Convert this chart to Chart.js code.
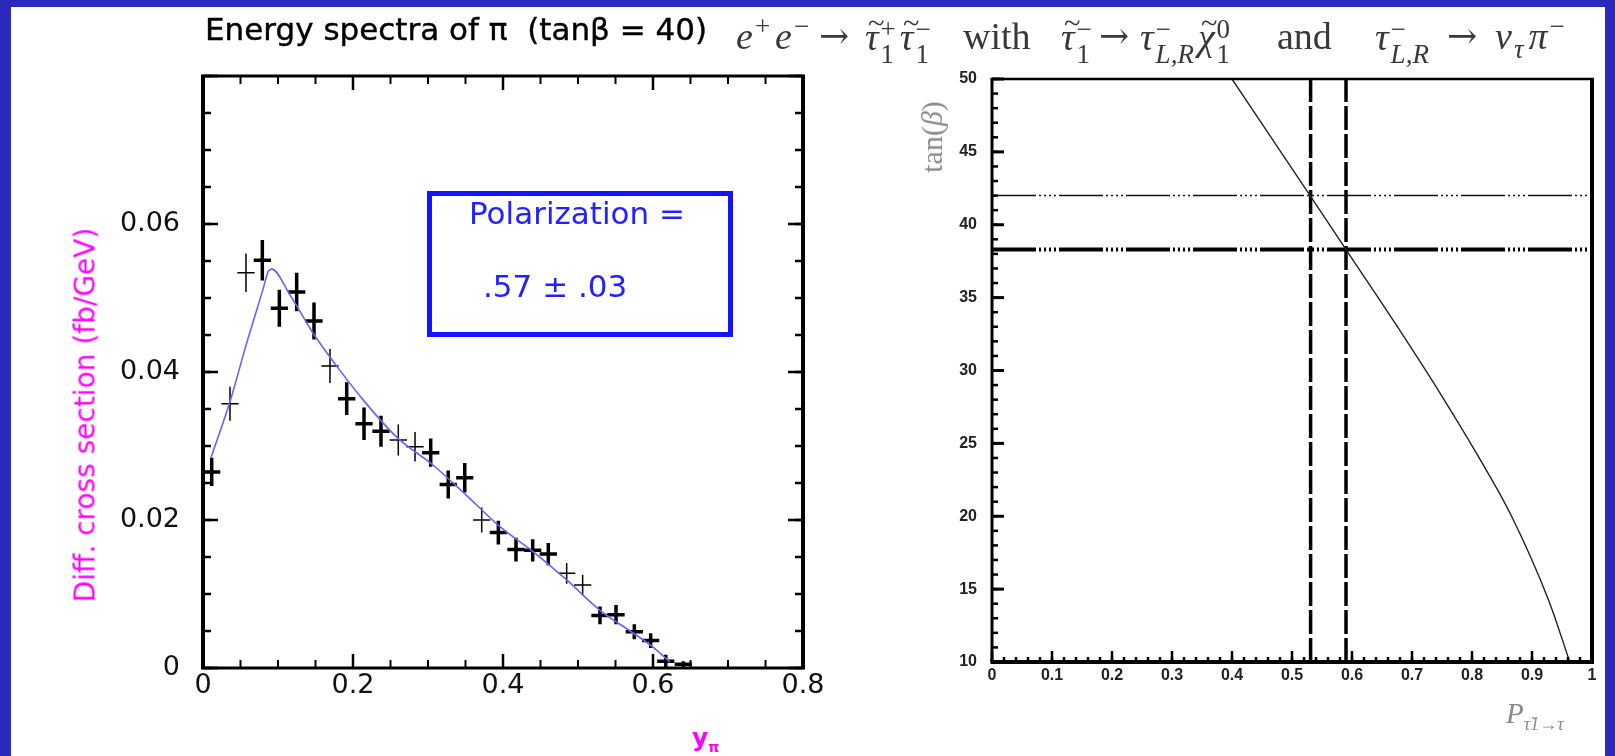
<!DOCTYPE html>
<html>
<head>
<meta charset="utf-8">
<script src="https://cdn.jsdelivr.net/npm/chart.js@4.4.1/dist/chart.umd.min.js"></script>
<style>
  body { margin: 0; background: #2a2bbd; }
  #page { position: relative; width: 1615px; height: 756px; overflow: hidden; background: #2a2bbd; }
  #white { position: absolute; left: 11px; top: 7px; width: 1594px; height: 749px; background: #fff; }
  canvas { position: absolute; top: 0; }
  .txt { position: absolute; white-space: nowrap; line-height: 1; }
  #title { left: 205px; top: 11px; font: 31px "DejaVu Sans"; color: #000; -webkit-text-stroke: 0.4px #000; }
  .fm { position: absolute; top: 17px; font: 38px "Liberation Serif"; color: #383838; white-space: nowrap; line-height: 38px; }
  .fm i { font-style: italic; }
  .ss { display: inline-block; vertical-align: -0.5em; font-size: 27px; line-height: 25px; margin-left: 2px; margin-right: 4px; }
  .ss > span { display: block; }
  .fm sup, .fm sub { font-size: 27px; line-height: 0; margin-left: 2px; margin-right: 5px; }
  .tl { position: relative; display: inline-block; }
  .tl::after { content: "~"; position: absolute; left: 0.1em; top: -0.45em; font-style: normal; font-size: 0.8em; }
  .ar { font-family: "DejaVu Serif"; font-size: 36px; }
  #polbox { position: absolute; left: 427px; top: 191px; width: 306px; height: 146px; box-sizing: border-box; border: 5px solid #1414ff; }
  .pol { font: 31px "DejaVu Sans"; color: #2222ff; }
  #ytitle { left: 85px; top: 415px; font: 28px "DejaVu Sans"; color: #ff00ff; transform: translate(-50%, -50%) rotate(-90deg); }
  #xtitle { left: 692px; top: 723px; font: bold 25px "DejaVu Sans"; color: #ff00ff; }
  #xtitle sub { font-size: 14px; }
  #tbtitle { left: 932px; top: 137px; font: 30px "Liberation Serif"; color: #8a8a8a; transform: translate(-50%, -50%) rotate(-90deg); }
  #ptitle { left: 1506px; top: 697px; font: italic 29px "Liberation Serif"; color: #8a8a8a; }
  #ptitle sub { font-size: 18px; }
</style>
</head>
<body>
<div id="page">
  <div id="white"></div>
  <canvas id="spectrum" width="880" height="756" style="left:0"></canvas>
  <canvas id="tanbeta" width="735" height="756" style="left:880px"></canvas>

  <div class="txt" id="title">Energy spectra of π&nbsp; (tanβ = 40)</div>

  <div class="fm" style="left:736px"><i>e</i><sup>+</sup><i>e</i><sup>−</sup></div>
  <div class="fm ar" style="left:819px">→</div>
  <div class="fm" style="left:865px"><i class="tl">τ</i><span class="ss"><span>+</span><span>1</span></span><i class="tl">τ</i><span class="ss"><span>−</span><span>1</span></span></div>
  <div class="fm" style="left:963px">with</div>
  <div class="fm" style="left:1061px"><i class="tl">τ</i><span class="ss"><span>−</span><span>1</span></span></div>
  <div class="fm ar" style="left:1099px">→</div>
  <div class="fm" style="left:1140px"><i>τ</i><span class="ss"><span>−</span><span><i>L,R</i></span></span><i class="tl">χ</i><span class="ss"><span>0</span><span>1</span></span></div>
  <div class="fm" style="left:1277px">and</div>
  <div class="fm" style="left:1375px"><i>τ</i><span class="ss"><span>−</span><span><i>L,R</i></span></span></div>
  <div class="fm ar" style="left:1447px">→</div>
  <div class="fm" style="left:1495px"><i>ν</i><sub><i>τ</i></sub><i>π</i><sup>−</sup></div>

  <div id="polbox"></div>
  <div class="txt pol" style="left:469px; top:195px">Polarization =</div>
  <div class="txt pol" style="left:483px; top:268px">.57 ± .03</div>

  <div class="txt" id="ytitle">Diff. cross section (fb/GeV)</div>
  <div class="txt" id="xtitle">y<sub>π</sub></div>
  <div class="txt" id="tbtitle">tan(<i>β</i>)</div>
  <div class="txt" id="ptitle">P<sub>τ̃1→τ</sub></div>
</div>

<script>
// left panel: pion energy spectrum
const yPi = [0.0116, 0.036, 0.0573, 0.0791, 0.1018, 0.1249, 0.148, 0.1693, 0.1916, 0.2147,
  0.2373, 0.2604, 0.2827, 0.3036, 0.327, 0.349, 0.3716, 0.3938, 0.4173, 0.4396,
  0.4604, 0.4849, 0.5062, 0.5293, 0.5507, 0.5751, 0.5969, 0.617, 0.6404];
const xsec = [0.0265, 0.0357, 0.0534, 0.0551, 0.0486, 0.0508, 0.0469, 0.0408, 0.0364, 0.0330,
  0.0320, 0.0308, 0.0299, 0.0291, 0.0248, 0.0257, 0.0200, 0.0183, 0.0160, 0.0159,
  0.0154, 0.0128, 0.0112, 0.0071, 0.0072, 0.0049, 0.0037, 0.0009, 0.0005];
const xsecErr = [0.0019, 0.0023, 0.0026, 0.00275, 0.0025, 0.0026, 0.0025, 0.0023, 0.0022, 0.0022,
  0.0021, 0.0021, 0.0020, 0.0019, 0.0019, 0.0020, 0.0017, 0.0016, 0.0016, 0.0015,
  0.0015, 0.0014, 0.0014, 0.0012, 0.0013, 0.0010, 0.0010, 0.0009, 0.0004];
const binHalf = 0.0115;
const thickBar = [1, 0, 0, 1, 1, 1, 1, 0, 1, 1, 1, 0, 0, 1, 1, 1, 0, 1, 1, 1, 1, 0, 0, 1, 1, 1, 1, 1, 1];

const fitX = [0.0102, 0.036, 0.0582, 0.0804, 0.087, 0.0916, 0.116, 0.1471, 0.1738, 0.2138,
  0.2582, 0.307, 0.3516, 0.396, 0.4404, 0.4849, 0.5293, 0.5738, 0.6004, 0.6227];
const fitY = [0.0283, 0.036, 0.0439, 0.0513, 0.0536, 0.0539, 0.0504, 0.0452, 0.0414, 0.0362,
  0.0312, 0.0274, 0.0233, 0.0191, 0.0157, 0.0119, 0.0078, 0.0047, 0.0028, 0.0008];

const leftXTicks = [0, 0.2, 0.4, 0.6, 0.8];
const leftXLabels = ['0', '0.2', '0.4', '0.6', '0.8'];
const leftYTicks = [0, 0.02, 0.04, 0.06, 0.08];
const leftYLabels = ['0', '0.02', '0.04', '0.06', ''];

// right panel: tan(beta) vs polarization
const polX = [0.400, 0.531, 0.590, 0.671, 0.749, 0.812, 0.866, 0.928, 0.963];
const tanB = [50, 41.95, 38.3, 33.3, 28.3, 24.0, 20.0, 14.2, 10];
const tanBBand = [42.0, 38.3];
const polBand = [0.531, 0.590];

const rightXTicks = [0, 0.1, 0.2, 0.3, 0.4, 0.5, 0.6, 0.7, 0.8, 0.9, 1];
const rightXLabels = ['0', '0.1', '0.2', '0.3', '0.4', '0.5', '0.6', '0.7', '0.8', '0.9', '1'];
const rightYTicks = [10, 15, 20, 25, 30, 35, 40, 45, 50];
const rightYLabels = ['10', '15', '20', '25', '30', '35', '40', '45', '50'];

// frame + inward tick marks, drawn through the chart scales
function framePlugin(cfg) {
  return {
    id: 'frameTicks',
    afterDraw(chart) {
      const { ctx, chartArea: a, scales: { x, y } } = chart;
      ctx.save();
      ctx.strokeStyle = '#000';
      ctx.lineCap = 'butt';

      const xs = (step, fn) => {
        for (let v = x.min; v <= x.max + 1e-9; v += step) fn(x.getPixelForValue(v));
      };
      const ys = (step, fn) => {
        for (let v = y.min; v <= y.max + 1e-9; v += step) fn(y.getPixelForValue(v));
      };
      const line = (x1, y1, x2, y2, w) => {
        ctx.lineWidth = w;
        ctx.beginPath();
        ctx.moveTo(x1, y1);
        ctx.lineTo(x2, y2);
        ctx.stroke();
      };

      cfg.xTicks.forEach(t => xs(t.step, px => {
        if (t.bottom) line(px, a.bottom, px, a.bottom - t.len, t.w);
        if (t.top) line(px, a.top, px, a.top + t.len, t.w);
      }));
      cfg.yTicks.forEach(t => ys(t.step, py => {
        if (t.left) line(a.left, py, a.left + t.len, py, t.w);
        if (t.right) line(a.right, py, a.right - t.len, py, t.w);
      }));

      const f = cfg.frame;
      line(a.left - f.left / 2, a.top, a.right + f.right / 2, a.top, f.top);
      line(a.left - f.left / 2, a.bottom, a.right + f.right / 2, a.bottom, f.bottom);
      line(a.left, a.top, a.left, a.bottom, f.left);
      line(a.right, a.top, a.right, a.bottom, f.right);
      ctx.restore();
    }
  };
}

const errorBars = {
  id: 'errorBars',
  beforeDatasetsDraw(chart) {
    const { ctx, scales: { x, y } } = chart;
    ctx.save();
    ctx.strokeStyle = '#000';
    yPi.forEach((v, i) => {
      const px = x.getPixelForValue(v);
      const py = y.getPixelForValue(xsec[i]);
      ctx.lineWidth = thickBar[i] ? 3.5 : 1.5;
      ctx.beginPath();
      ctx.moveTo(x.getPixelForValue(v - binHalf), py);
      ctx.lineTo(x.getPixelForValue(v + binHalf), py);
      ctx.moveTo(px, y.getPixelForValue(xsec[i] - xsecErr[i]));
      ctx.lineTo(px, y.getPixelForValue(xsec[i] + xsecErr[i]));
      ctx.stroke();
    });
    ctx.restore();
  }
};

new Chart(document.getElementById('spectrum'), {
  type: 'scatter',
  data: {
    datasets: [
      {
        label: 'data',
        data: yPi.map((v, i) => ({ x: v, y: xsec[i] })),
        pointRadius: 0,
      },
      {
        label: 'fit',
        data: fitX.map((v, i) => ({ x: v, y: fitY[i] })),
        showLine: true,
        borderColor: '#6464ff',
        borderWidth: 1.6,
        pointRadius: 0,
        cubicInterpolationMode: 'monotone',
      },
    ],
  },
  options: {
    responsive: false,
    animation: false,
    events: [],
    layout: { padding: { left: 0, right: 77, top: 76, bottom: 0 } },
    plugins: { legend: { display: false }, tooltip: { enabled: false } },
    scales: {
      x: {
        type: 'linear',
        min: 0,
        max: 0.8,
        afterBuildTicks: s => { s.ticks = leftXTicks.map(v => ({ value: v })); },
        afterFit: s => { s.height = 88; },
        ticks: {
          callback: (v, i) => leftXLabels[i],
          font: { family: 'DejaVu Sans', size: 27 },
          color: '#111',
          padding: 2,
          maxRotation: 0,
          autoSkip: false,
        },
        grid: { display: false, drawTicks: false },
        border: { display: false },
      },
      y: {
        type: 'linear',
        min: 0,
        max: 0.08,
        afterBuildTicks: s => { s.ticks = leftYTicks.map(v => ({ value: v })); },
        afterFit: s => { s.width = 203; },
        ticks: {
          callback: (v, i) => leftYLabels[i],
          font: { family: 'DejaVu Sans', size: 27 },
          color: '#111',
          padding: 23,
          autoSkip: false,
        },
        grid: { display: false, drawTicks: false },
        border: { display: false },
      },
    },
  },
  plugins: [errorBars, framePlugin({
    frame: { left: 4, right: 4, top: 3, bottom: 3 },
    xTicks: [
      { step: 0.05, len: 8, w: 2, bottom: true, top: true },
      { step: 0.2, len: 14, w: 2.5, bottom: true, top: true },
    ],
    yTicks: [
      { step: 0.005, len: 8, w: 2.5, left: true, right: true },
      { step: 0.02, len: 15, w: 2.5, left: true, right: true },
    ],
  })],
});

const hPattern = [44, 3, 2, 3, 2, 3, 2, 3, 2, 3];

new Chart(document.getElementById('tanbeta'), {
  type: 'scatter',
  data: {
    datasets: [
      {
        label: 'P vs tan(beta)',
        data: polX.map((v, i) => ({ x: v, y: tanB[i] })),
        showLine: true,
        borderColor: '#222',
        borderWidth: 1.4,
        pointRadius: 0,
        cubicInterpolationMode: 'monotone',
      },
      {
        label: 'upper',
        data: [{ x: 0, y: tanBBand[0] }, { x: 1, y: tanBBand[0] }],
        showLine: true,
        borderColor: '#111',
        borderWidth: 1.5,
        borderDash: hPattern,
        pointRadius: 0,
      },
      {
        label: 'lower',
        data: [{ x: 0, y: tanBBand[1] }, { x: 1, y: tanBBand[1] }],
        showLine: true,
        borderColor: '#000',
        borderWidth: 4,
        borderDash: hPattern,
        pointRadius: 0,
      },
      {
        label: 'pol low',
        data: [{ x: polBand[0], y: 10 }, { x: polBand[0], y: 50 }],
        showLine: true,
        borderColor: '#000',
        borderWidth: 3.5,
        borderDash: [24, 4],
        pointRadius: 0,
      },
      {
        label: 'pol high',
        data: [{ x: polBand[1], y: 10 }, { x: polBand[1], y: 50 }],
        showLine: true,
        borderColor: '#000',
        borderWidth: 3.5,
        borderDash: [24, 4],
        pointRadius: 0,
      },
    ],
  },
  options: {
    responsive: false,
    animation: false,
    events: [],
    layout: { padding: { left: 0, right: 23, top: 79, bottom: 0 } },
    plugins: { legend: { display: false }, tooltip: { enabled: false } },
    scales: {
      x: {
        type: 'linear',
        min: 0,
        max: 1,
        afterBuildTicks: s => { s.ticks = rightXTicks.map(v => ({ value: v })); },
        afterFit: s => { s.height = 94; },
        ticks: {
          callback: (v, i) => rightXLabels[i],
          font: { family: 'Liberation Sans', size: 16, weight: 'bold' },
          color: '#222',
          padding: 4,
          maxRotation: 0,
          autoSkip: false,
        },
        grid: { display: false, drawTicks: false },
        border: { display: false },
      },
      y: {
        type: 'linear',
        min: 10,
        max: 50,
        afterBuildTicks: s => { s.ticks = rightYTicks.map(v => ({ value: v })); },
        afterFit: s => { s.width = 112; },
        ticks: {
          callback: (v, i) => rightYLabels[i],
          font: { family: 'Liberation Sans', size: 16, weight: 'bold' },
          color: '#222',
          padding: 15,
          autoSkip: false,
        },
        grid: { display: false, drawTicks: false },
        border: { display: false },
      },
    },
  },
  plugins: [framePlugin({
    frame: { left: 3, right: 4, top: 2.5, bottom: 4 },
    xTicks: [
      { step: 0.02, len: 5, w: 2.5, bottom: true },
      { step: 0.1, len: 11, w: 2.5, bottom: true },
    ],
    yTicks: [
      { step: 1, len: 6, w: 2.5, left: true },
      { step: 5, len: 12, w: 3, left: true },
    ],
  })],
});
</script>
</body>
</html>
